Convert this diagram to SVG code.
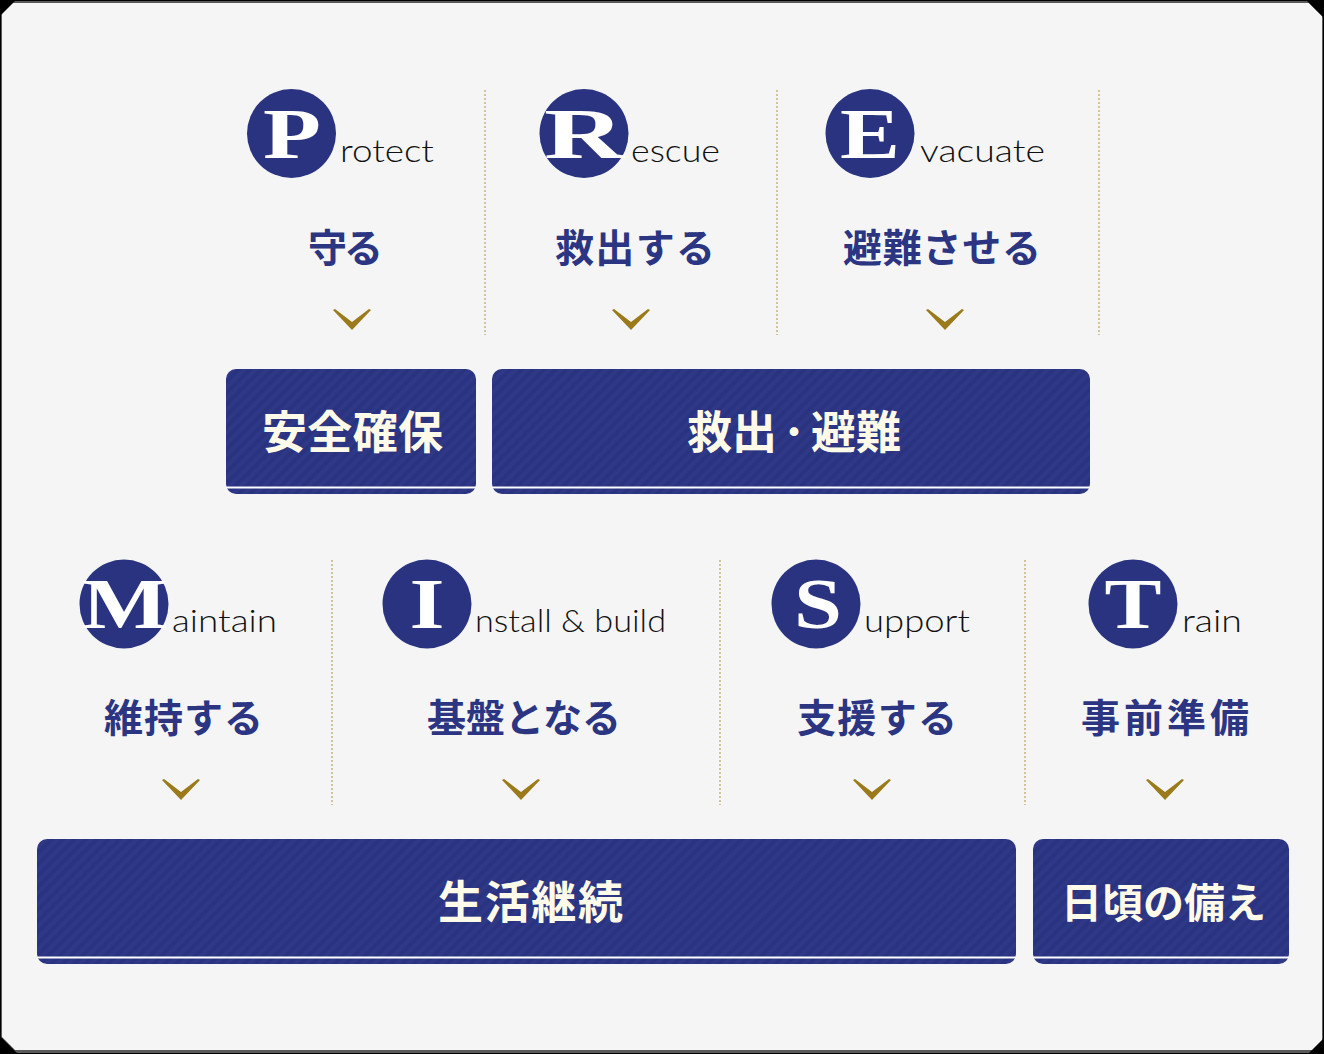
<svg xmlns="http://www.w3.org/2000/svg" width="1324" height="1054" viewBox="0 0 1324 1054">
<defs>
<pattern id="tex" width="8" height="8" patternUnits="userSpaceOnUse" patternTransform="rotate(45)">
<rect width="8" height="8" fill="#29337f"/>
<rect width="4" height="8" fill="#2e3886"/>
</pattern>
<style>
.box{fill:url(#tex)}
.line{fill:#ffffff}
.circ{fill:#29337f}
.big{font-family:"Liberation Serif","DejaVu Serif",serif;font-weight:bold;font-size:72px;fill:#ffffff;text-anchor:middle}
.en{font-family:"Lato","Noto Sans",sans-serif;font-weight:300;font-size:31px;fill:#111111}
.jp{font-family:"Noto Sans CJK JP",sans-serif;font-weight:bold;font-size:39px;fill:#2b3582;text-anchor:middle}
.bt{font-family:"Noto Sans CJK JP",sans-serif;font-weight:bold;font-size:45px;fill:#fffbe8;text-anchor:middle}
.dot{stroke:#c9b27a;stroke-width:1.5;stroke-dasharray:2 2;fill:none}
.chev{fill:#9a7a1a}
</style>
<polygon id="chv" points="-19,-10 -17,-11 0,2 17,-11 19,-10 0,10"/>
</defs>
<rect width="1324" height="1054" fill="#000"/>
<polygon points="14,1 1310,1 1323,14 1323,1053 14,1053 1,1040 1,1" fill="#5a5a5a"/>
<polygon points="15,3 1309,3 1322,16 1322,1050 1309,1050 15,1050 2,1037 2,3" fill="#f4f5f4"/>
<polygon points="0,0 16,0 0,16" fill="#000"/>
<polygon points="1324,1054 1308,1054 1324,1038" fill="#000"/>
<polygon points="1306,0 1324,0 1324,18" fill="#000"/>
<polygon points="0,1036 0,1054 18,1054" fill="#000"/>

<g id="connectors">
<line class="dot" x1="485" y1="90" x2="485" y2="335"/>
<line class="dot" x1="777" y1="90" x2="777" y2="335"/>
<line class="dot" x1="1099" y1="90" x2="1099" y2="335"/>
<line class="dot" x1="332" y1="560" x2="332" y2="805"/>
<line class="dot" x1="720" y1="560" x2="720" y2="805"/>
<line class="dot" x1="1025" y1="560" x2="1025" y2="805"/>
<use href="#chv" class="chev" x="352" y="320"/>
<use href="#chv" class="chev" x="631" y="320"/>
<use href="#chv" class="chev" x="945" y="320"/>
<use href="#chv" class="chev" x="181" y="790"/>
<use href="#chv" class="chev" x="521" y="790"/>
<use href="#chv" class="chev" x="872" y="790"/>
<use href="#chv" class="chev" x="1165" y="790"/>
</g>

<g id="protect">
<circle class="circ" cx="291.5" cy="133.5" r="44.5"/>
<text class="big" x="292" y="158" textLength="58" lengthAdjust="spacingAndGlyphs">P</text>
<text class="en" x="340" y="162" textLength="94" lengthAdjust="spacingAndGlyphs">rotect</text>
<text class="jp" x="345.5" y="262" textLength="75">守る</text>
</g>
<g id="rescue">
<circle class="circ" cx="584" cy="133.5" r="44.5"/>
<text class="big" x="584" y="158" textLength="80" lengthAdjust="spacingAndGlyphs">R</text>
<text class="en" x="631" y="162" textLength="89" lengthAdjust="spacingAndGlyphs">escue</text>
<text class="jp" x="635" y="262" textLength="160">救出する</text>
</g>
<g id="evacuate">
<circle class="circ" cx="870" cy="133.5" r="44.5"/>
<text class="big" x="870" y="158" textLength="60" lengthAdjust="spacingAndGlyphs">E</text>
<text class="en" x="920" y="162" textLength="125" lengthAdjust="spacingAndGlyphs">vacuate</text>
<text class="jp" x="942" y="262" textLength="198">避難させる</text>
</g>

<g id="anzen">
<rect class="box" x="226" y="369" width="250" height="125" rx="10"/>
<rect class="line" x="226" y="486.5" width="250" height="2"/>
<text class="bt" x="352.5" y="449" textLength="181">安全確保</text>
</g>
<g id="kyushutsu">
<rect class="box" x="492" y="369" width="598" height="125" rx="10"/>
<rect class="line" x="492" y="486.5" width="598" height="2"/>
<text class="bt" y="449"><tspan x="732">救出</tspan><tspan x="794" dy="-4" style="font-size:34px">・</tspan><tspan x="856" dy="4">避難</tspan></text>
</g>

<g id="maintain">
<circle class="circ" cx="124" cy="604" r="44.5"/>
<text class="big" x="125" y="628" textLength="86" lengthAdjust="spacingAndGlyphs">M</text>
<text class="en" x="172" y="632" textLength="105" lengthAdjust="spacingAndGlyphs">aintain</text>
<text class="jp" x="183.5" y="732" textLength="159">維持する</text>
</g>
<g id="install">
<circle class="circ" cx="427" cy="604" r="44.5"/>
<text class="big" x="427" y="628" textLength="35" lengthAdjust="spacingAndGlyphs">I</text>
<text class="en" x="475" y="632" textLength="191" lengthAdjust="spacingAndGlyphs">nstall &amp; build</text>
<text class="jp" x="524" y="732" textLength="194">基盤となる</text>
</g>
<g id="support">
<circle class="circ" cx="816" cy="604" r="44.5"/>
<text class="big" x="818" y="628" textLength="48" lengthAdjust="spacingAndGlyphs">S</text>
<text class="en" x="864" y="632" textLength="106" lengthAdjust="spacingAndGlyphs">upport</text>
<text class="jp" x="877" y="732" textLength="160">支援する</text>
</g>
<g id="train">
<circle class="circ" cx="1133" cy="604" r="44.5"/>
<text class="big" x="1133" y="628" textLength="57" lengthAdjust="spacingAndGlyphs">T</text>
<text class="en" x="1182" y="632" textLength="60" lengthAdjust="spacingAndGlyphs">rain</text>
<text class="jp" x="1165" y="732" textLength="168">事前準備</text>
</g>

<g id="seikatsu">
<rect class="box" x="37" y="839" width="979" height="125" rx="10"/>
<rect class="line" x="37" y="956.5" width="979" height="2"/>
<text class="bt" x="530.5" y="919" textLength="185">生活継続</text>
</g>
<g id="higoro">
<rect class="box" x="1033" y="839" width="256" height="125" rx="10"/>
<rect class="line" x="1033" y="956.5" width="256" height="2"/>
<text class="bt" x="1163.5" y="918" style="font-size:41px">日頃の備え</text>
</g>
</svg>
